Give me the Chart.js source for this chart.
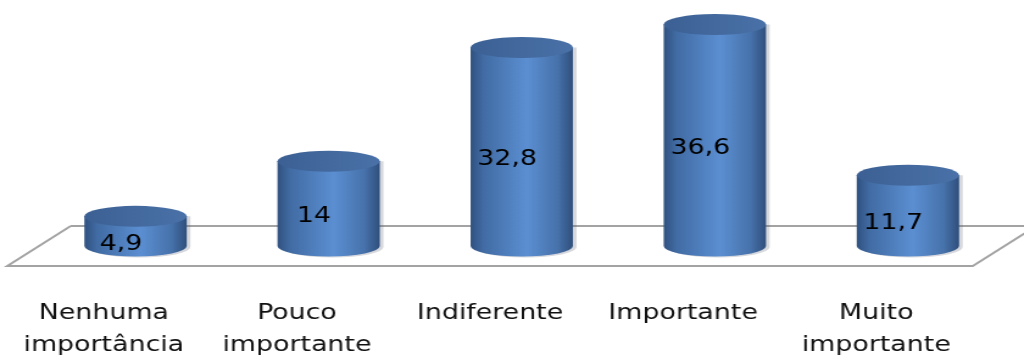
<!DOCTYPE html>
<html>
<head>
<meta charset="utf-8">
<script src="https://cdn.jsdelivr.net/npm/chart.js@4.4.1/dist/chart.umd.min.js"></script>
<style>
    body { margin: 0; background: #ffffff; overflow: hidden; }
    /* the chart is drawn narrow and then widened sideways */
    #grauChart { display: block; transform: scaleX(1.219); transform-origin: 0 0; }
</style>
</head>
<body>
<canvas id="grauChart" width="840" height="358"></canvas>
<script>
// Categories on the x-axis (arrays give two-line labels)
var categorias = [
    ["Nenhuma", "importância"],
    ["Pouco", "importante"],
    "Indiferente",
    "Importante",
    ["Muito", "importante"]
];

// Percentages for each category
var percentuais = [4.9, 14, 32.8, 36.6, 11.7];

// Depth of the 3D floor and how far the cylinders sit back into it
var depthX = 52;
var depthY = -40;
var ellipseRy = 10.5;

// Draws the floor (a flat parallelogram) behind the bars
var floorPlugin = {
    id: "floor",
    beforeDatasetsDraw(chart) {
        var ctx = chart.ctx;
        var area = chart.chartArea;
        ctx.save();
        ctx.strokeStyle = "#a3a3a3";
        ctx.lineWidth = 2;
        ctx.beginPath();
        ctx.moveTo(area.left + depthX, area.bottom + depthY);
        ctx.lineTo(area.left, area.bottom);
        ctx.lineTo(area.right, area.bottom);
        ctx.lineTo(area.right + depthX, area.bottom + depthY);
        ctx.lineTo(area.left + depthX, area.bottom + depthY);
        ctx.stroke();
        ctx.restore();
    }
};

// Turns each bar into a shaded cylinder and writes its value on it
var cylinderPlugin = {
    id: "cylinders",
    afterDatasetsDraw(chart) {
        var ctx = chart.ctx;
        var meta = chart.getDatasetMeta(0);
        meta.data.forEach((bar, i) => {
            var cx = bar.x + depthX / 2;
            var r = bar.width / 2;
            var topY = bar.y + depthY / 2;
            var botY = bar.base + depthY / 2;

            ctx.save();
            // soft shadow on the right side
            ctx.fillStyle = "rgba(90,100,120,0.25)";
            ctx.beginPath();
            ctx.moveTo(cx - r + 3, topY);
            ctx.lineTo(cx - r + 3, botY);
            ctx.ellipse(cx + 3, botY + 1, r, ellipseRy, 0, Math.PI, 0, true);
            ctx.lineTo(cx + r + 3, topY);
            ctx.closePath();
            ctx.fill();

            // body of the cylinder
            var body = ctx.createLinearGradient(cx - r, 0, cx + r, 0);
            body.addColorStop(0, "#30517f");
            body.addColorStop(0.12, "#416ba3");
            body.addColorStop(0.55, "#5b8fd2");
            body.addColorStop(0.85, "#4772ab");
            body.addColorStop(1, "#2f4f7c");
            ctx.fillStyle = body;
            ctx.beginPath();
            ctx.moveTo(cx - r, topY);
            ctx.lineTo(cx - r, botY);
            ctx.ellipse(cx, botY, r, ellipseRy, 0, Math.PI, 0, true);
            ctx.lineTo(cx + r, topY);
            ctx.closePath();
            ctx.fill();

            // top of the cylinder
            var top = ctx.createLinearGradient(cx - r, 0, cx + r, 0);
            top.addColorStop(0, "#3c6094");
            top.addColorStop(1, "#4a72a8");
            ctx.fillStyle = top;
            ctx.beginPath();
            ctx.ellipse(cx, topY, r, ellipseRy, 0, 0, Math.PI * 2);
            ctx.fill();

            // value label, with a comma as decimal mark
            ctx.fillStyle = "#000000";
            ctx.font = "22px 'DejaVu Sans'";
            ctx.textAlign = "center";
            ctx.textBaseline = "middle";
            var texto = String(percentuais[i]).replace(".", ",");
            ctx.fillText(texto, cx - 12, (topY + botY) / 2 + 13);
            ctx.restore();
        });
    }
};

new Chart("grauChart", {
    type: "bar",
    data: {
        labels: categorias,
        datasets: [{
            data: percentuais,
            backgroundColor: "rgba(0,0,0,0)",
            borderWidth: 0,
            categoryPercentage: 1,
            barPercentage: 0.53
        }]
    },
    options: {
        responsive: false,
        animation: false,
        layout: { padding: { left: 6, right: 42, top: 24, bottom: 0 } },
        plugins: {
            legend: { display: false },
            tooltip: { enabled: false }
        },
        scales: {
            x: {
                grid: { display: false, drawTicks: false },
                border: { display: false },
                ticks: {
                    color: "#111111",
                    font: { family: "DejaVu Sans", size: 22, lineHeight: 1.45 },
                    padding: 31,
                    maxRotation: 0,
                    autoSkip: false
                },
                // fixed height so the floor lands in the right place,
                // and no extra side padding for the wide labels
                afterFit: scale => {
                    scale.height = 92;
                    scale.paddingLeft = 0;
                    scale.paddingRight = 0;
                }
            },
            y: {
                display: false,
                min: 0,
                max: 40
            }
        }
    },
    plugins: [floorPlugin, cylinderPlugin]
});
</script>
</body>
</html>
